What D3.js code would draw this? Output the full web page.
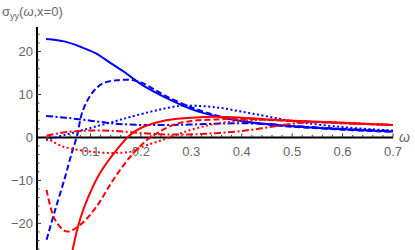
<!DOCTYPE html>
<html><head><meta charset="utf-8">
<script src="https://cdn.jsdelivr.net/npm/d3@7"></script>
<style>body{margin:0;background:#fff}svg{display:block}text{font-family:"Liberation Sans",Arial,sans-serif}</style>
</head><body><svg id="c" width="415" height="250"></svg>
<script>
// ---- data ----
const xTicks = [0.1, 0.2, 0.3, 0.4, 0.5, 0.6, 0.7];
const yTicks = [-20, -10, 0, 10, 20];
const blueSolid = [[0.012,22.9],[0.05,22.3],[0.08,21.1],[0.11,19.6],[0.14,17.3],[0.17,15.0],[0.2,12.4],[0.25,9.2],[0.3,6.6],[0.35,4.9],[0.4,3.8],[0.45,3.1],[0.5,2.6],[0.6,1.9],[0.7,1.4]];
const blueDashed = [[0.013,-23.8],[0.03,-16.9],[0.05,-9.1],[0.063,-3.6],[0.073,0.2],[0.085,6.3],[0.105,10.6],[0.125,12.6],[0.152,13.3],[0.179,13.4],[0.2,12.8],[0.22,11.6],[0.25,9.6],[0.3,7.0],[0.35,5.1],[0.4,3.8],[0.45,3.0],[0.5,2.5],[0.6,1.8],[0.7,1.3]];
const blueDotted = [[0.012,-0.6],[0.05,0.6],[0.1,2.2],[0.15,3.8],[0.18,4.8],[0.22,6.0],[0.25,6.8],[0.28,7.4],[0.3,7.4],[0.35,7.0],[0.4,6.0],[0.45,4.9],[0.5,3.8],[0.6,2.4],[0.7,1.6]];
const blueDashDot = [[0.012,5.0],[0.05,4.6],[0.1,3.9],[0.15,3.2],[0.2,2.9],[0.25,2.9],[0.3,3.0],[0.35,3.2],[0.4,3.3],[0.45,3.1],[0.5,2.7],[0.6,2.0],[0.7,1.5]];
const redSolid = [[0.06,-30],[0.066,-25.4],[0.079,-19.2],[0.096,-13.8],[0.119,-8.3],[0.152,-2.9],[0.179,0.6],[0.2,2.2],[0.25,4.0],[0.3,4.6],[0.35,4.8],[0.4,4.6],[0.45,4.2],[0.5,3.9],[0.6,3.4],[0.7,2.9]];
const redDashed = [[0.013,-12.2],[0.03,-19.2],[0.053,-21.9],[0.08,-20.3],[0.112,-16.1],[0.145,-9.9],[0.179,-4.5],[0.212,-0.6],[0.235,1.2],[0.264,2.9],[0.3,3.8],[0.35,4.2],[0.4,4.3],[0.5,3.8],[0.6,3.3],[0.7,2.9]];
const redDotted = [[0.013,-0.1],[0.045,-2.1],[0.1,-3.3],[0.145,-3.6],[0.18,-3.3],[0.2,-2.3],[0.25,-0.3],[0.3,1.8],[0.35,3.2],[0.4,3.9],[0.45,4.1],[0.5,3.9],[0.6,3.3],[0.7,2.9]];
const redDashDot = [[0.013,0.4],[0.05,1.2],[0.1,1.6],[0.15,1.5],[0.2,1.0],[0.25,0.7],[0.3,0.7],[0.35,1.0],[0.4,1.5],[0.45,2.3],[0.5,3.2],[0.55,3.6],[0.6,3.4],[0.7,2.9]];

const series = [
  {d: blueSolid, c: "#0000ff", dash: null},
  {d: blueDashed, c: "#0000ff", dash: "6,3"},
  {d: blueDotted, c: "#0000ff", dash: "2,2.5"},
  {d: blueDashDot, c: "#0000ff", dash: "7,2.5,2,2.5"},
  {d: redSolid, c: "#ff0000", dash: null},
  {d: redDashed, c: "#ff0000", dash: "6,3"},
  {d: redDotted, c: "#ff0000", dash: "2,2.5"},
  {d: redDashDot, c: "#ff0000", dash: "7,2.5,2,2.5"}
];

const svg = d3.select("#c");
const x = d3.scaleLinear().domain([-0.006, 0.7]).range([37, 393]);
const y = d3.scaleLinear().domain([-26.2, 25.7]).range([250, 27]);
const gray = "#666";
const tickCol = "#333";

// axes
const ax = svg.append("g");
ax.append("line").attr("x1", 37).attr("x2", 393).attr("y1", y(0)).attr("y2", y(0)).attr("stroke", "#000").attr("stroke-width", 2);
ax.append("line").attr("x1", 37).attr("x2", 37).attr("y1", 27).attr("y2", 250).attr("stroke", "#000").attr("stroke-width", 2);
d3.range(0.02, 0.701, 0.02).forEach(v => {
  const major = Math.abs(v*10 - Math.round(v*10)) < 1e-6;
  ax.append("line").attr("x1", x(v)).attr("x2", x(v)).attr("y1", y(0)).attr("y2", y(0) - (major ? 4 : 2.5)).attr("stroke", tickCol).attr("stroke-width", 1);
});
d3.range(-26, 26, 2).forEach(v => {
  if (v === 0) return;
  const major = v % 10 === 0;
  ax.append("line").attr("x1", 37).attr("x2", 37 + (major ? 4 : 2.5)).attr("y1", y(v)).attr("y2", y(v)).attr("stroke", tickCol).attr("stroke-width", 1);
});
xTicks.forEach(v => {
  ax.append("text").attr("x", x(v)).attr("y", y(0) + 19).attr("text-anchor", "middle").attr("font-size", 13).attr("fill", gray).text(d3.format(".1f")(v));
});
yTicks.forEach(v => {
  ax.append("text").attr("x", 33).attr("y", y(v) + 4.5).attr("text-anchor", "end").attr("font-size", 13).attr("fill", gray).text(v < 0 ? "\u2212" + Math.abs(v) : String(v));
});
// labels
const t = svg.append("text").attr("x", 2).attr("y", 16).attr("font-size", 13).attr("fill", gray);
t.append("tspan").text("\u03c3");
t.append("tspan").attr("font-size", 9).attr("dy", 3).text("yy");
t.append("tspan").attr("dy", -3).text("(");
t.append("tspan").attr("font-style", "italic").text("\u03c9");
t.append("tspan").text(",x=0)");
svg.append("text").attr("x", 399).attr("y", 142).attr("font-size", 14).attr("font-style", "italic").attr("fill", gray).text("\u03c9");

// curves
svg.append("clipPath").attr("id", "clip").append("rect").attr("x", 37).attr("y", 27).attr("width", 358).attr("height", 223);
const line = d3.line().x(d => x(d[0])).y(d => y(d[1])).curve(d3.curveCatmullRom.alpha(0.5));
const g = svg.append("g").attr("clip-path", "url(#clip)");
series.forEach(s => {
  g.append("path").attr("d", line(s.d)).attr("fill", "none").attr("stroke", s.c).attr("stroke-width", 2)
    .attr("stroke-dasharray", s.dash);
});
</script></body></html>
